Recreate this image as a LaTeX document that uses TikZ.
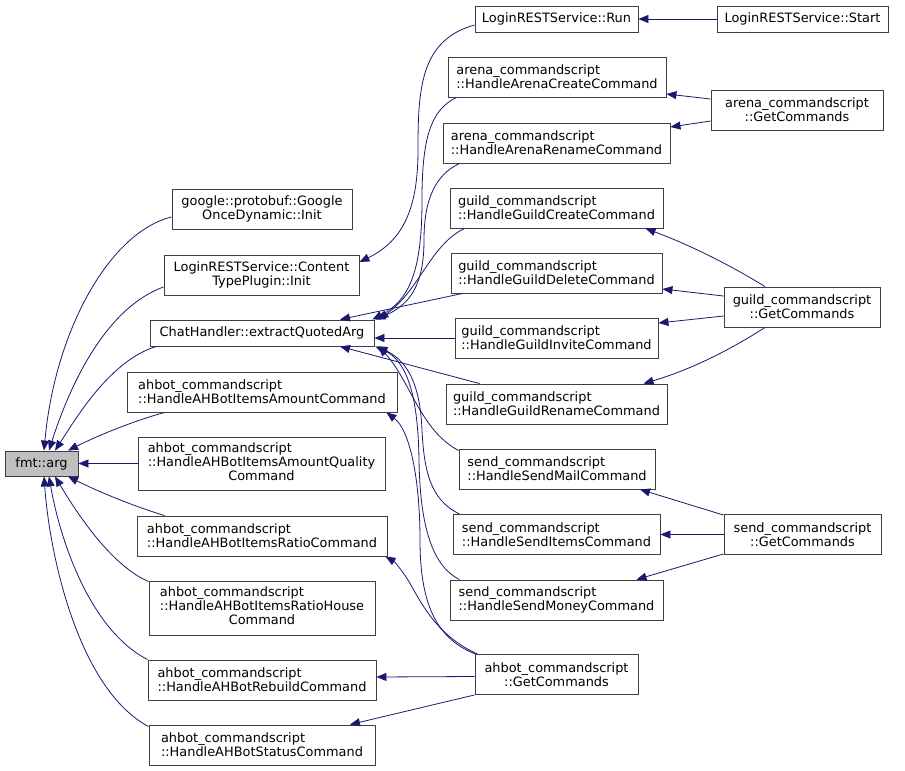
\documentclass[tikz,border=0pt]{standalone}
\usepackage{fontspec}
\setmainfont{DejaVu Sans}
\usetikzlibrary{arrows.meta,calc}
\definecolor{edgec}{HTML}{191970}
\definecolor{boxline}{HTML}{404040}
\definecolor{fmtfill}{HTML}{BFBFBF}
\begin{document}
\begin{tikzpicture}[x=1pt,y=-1pt,
  box/.style={draw=boxline, fill=white, inner sep=0pt, line width=0.9pt,
    font=\fontsize{12.9}{14}\selectfont},
  e/.style={draw=edgec, line width=0.8pt, -{Triangle[length=10pt,width=8pt]}}]
\useasboundingbox[fill=white] (0,0) rectangle (905,771);
% left column
\node[box, fill=fmtfill, minimum width=73pt, minimum height=25pt] (fmt) at (41.5,463.5) {fmt::arg};
\node[box, align=center, minimum width=180pt, minimum height=40pt] (google) at (262,209) {google::protobuf::Google\\OnceDynamic::Init};
\node[box, align=center, minimum width=195pt, minimum height=40pt] (content) at (261.5,275) {LoginRESTService::Content\\TypePlugin::Init};
\node[box, minimum width=224pt, minimum height=26pt] (extract) at (262,333) {ChatHandler::extractQuotedArg};
\node[box, align=left, minimum width=270pt, minimum height=40pt] (amount) at (262,392) {ahbot\_commandscript\\::HandleAHBotItemsAmountCommand};
\node[box, minimum width=247pt, minimum height=53pt] (quality) at (261.5,463.5) {\begin{tabular}{@{}l@{}}ahbot\_commandscript\\::HandleAHBotItemsAmountQuality\\\multicolumn{1}{@{}c@{}}{Command}\end{tabular}};
\node[box, align=left, minimum width=250pt, minimum height=40pt] (ratio) at (262,536) {ahbot\_commandscript\\::HandleAHBotItemsRatioCommand};
\node[box, minimum width=226pt, minimum height=54pt] (house) at (262,608) {\begin{tabular}{@{}l@{}}ahbot\_commandscript\\::HandleAHBotItemsRatioHouse\\\multicolumn{1}{@{}c@{}}{Command}\end{tabular}};
\node[box, align=left, minimum width=228pt, minimum height=40pt] (rebuild) at (262,680) {ahbot\_commandscript\\::HandleAHBotRebuildCommand};
\node[box, align=left, minimum width=226pt, minimum height=40pt] (status) at (262,745) {ahbot\_commandscript\\::HandleAHBotStatusCommand};
% middle column
\node[box, minimum width=163pt, minimum height=26pt] (run) at (556.5,19) {LoginRESTService::Run};
\node[box, align=left, minimum width=218pt, minimum height=40pt] (arenacreate) at (557,77) {arena\_commandscript\\::HandleArenaCreateCommand};
\node[box, align=left, minimum width=227pt, minimum height=40pt] (arenarename) at (556.5,143) {arena\_commandscript\\::HandleArenaRenameCommand};
\node[box, align=left, minimum width=213pt, minimum height=40pt] (guildcreate) at (556.5,208) {guild\_commandscript\\::HandleGuildCreateCommand};
\node[box, align=left, minimum width=211pt, minimum height=40pt] (guilddelete) at (556.5,273) {guild\_commandscript\\::HandleGuildDeleteCommand};
\node[box, align=left, minimum width=203pt, minimum height=40pt] (guildinvite) at (556.5,338) {guild\_commandscript\\::HandleGuildInviteCommand};
\node[box, align=left, minimum width=221pt, minimum height=40pt] (guildrename) at (556.5,404) {guild\_commandscript\\::HandleGuildRenameCommand};
\node[box, align=left, minimum width=196pt, minimum height=40pt] (sendmail) at (557,469) {send\_commandscript\\::HandleSendMailCommand};
\node[box, align=left, minimum width=207pt, minimum height=40pt] (senditems) at (556.5,534.5) {send\_commandscript\\::HandleSendItemsCommand};
\node[box, align=left, minimum width=213pt, minimum height=40pt] (sendmoney) at (556.5,600) {send\_commandscript\\::HandleSendMoneyCommand};
\node[box, align=center, minimum width=163pt, minimum height=40pt] (ahbotget) at (556.5,674.5) {ahbot\_commandscript\\::GetCommands};
% right column
\node[box, minimum width=171pt, minimum height=26pt] (start) at (802.5,19) {LoginRESTService::Start};
\node[box, align=center, minimum width=172pt, minimum height=40pt] (arenaget) at (797,110) {arena\_commandscript\\::GetCommands};
\node[box, align=center, minimum width=156pt, minimum height=40pt] (guildget) at (802,307) {guild\_commandscript\\::GetCommands};
\node[box, align=center, minimum width=157pt, minimum height=40pt] (sendget) at (802.5,534.5) {send\_commandscript\\::GetCommands};
% edges into fmt::arg
\draw[e] ([yshift=-8pt]google.west) .. controls (110,232) and (55,330) .. ([xshift=2.5pt]fmt.north);
\draw[e] ([yshift=-12pt]content.west) .. controls (100,310) and (65,400) .. ([xshift=7.5pt]fmt.north);
\draw[e] ([xshift=7pt]extract.south west) .. controls (110,360) and (75,420) .. ([xshift=13.5pt]fmt.north);
\draw[e] ([xshift=38pt]amount.south west) .. controls (130,422) and (95,437) .. ([xshift=26.5pt]fmt.north);
\draw[e] (quality.west) -- (fmt.east);
\draw[e] ([xshift=28pt]ratio.north west) .. controls (130,505) and (95,490) .. ([xshift=26.5pt]fmt.south);
\draw[e] ([yshift=-1pt]house.north west) .. controls (110,565) and (75,510) .. ([xshift=13.5pt]fmt.south);
\draw[e] (rebuild.north west) .. controls (90,630) and (60,540) .. ([xshift=7.5pt]fmt.south);
\draw[e] ([yshift=-2pt]status.north west) .. controls (80,690) and (50,560) .. ([xshift=2.5pt]fmt.south);
% tangle
\draw[e] ([yshift=-6pt]run.west) .. controls (420,40) and (418,90) .. (418,150) .. controls (418,205) and (405,240) .. ([yshift=13pt]content.east);
\draw[e] ([xshift=9pt]arenacreate.south west) .. controls (430,110) and (422,140) .. (422,200) .. controls (422,270) and (410,300) .. ([xshift=-2pt]extract.north east);
\draw[e] ([xshift=17pt]arenarename.south west) .. controls (435,175) and (424,200) .. (424,240) .. controls (424,285) and (410,305) .. ([xshift=1pt]extract.north east);
\draw[e] ([xshift=15pt]guildcreate.south west) .. controls (430,245) and (420,290) .. ([xshift=4pt]extract.north east);
\draw[e] ([xshift=12pt]guilddelete.south west) -- ([xshift=78pt]extract.north);
\draw[e] (guildinvite.west) -- (guildinvite.west -| extract.east);
\draw[e] ([xshift=34pt]guildrename.north west) -- ([xshift=78pt]extract.south);
\draw[e] ([yshift=-2pt]sendmail.north west) .. controls (420,430) and (410,380) .. ([xshift=4pt]extract.south east);
\draw[e] ([xshift=7pt]senditems.north west) .. controls (430,500) and (424,470) .. (422,430) .. controls (420,380) and (405,360) .. ([xshift=3pt]extract.south east);
\draw[e] ([xshift=10pt]sendmoney.north west) .. controls (430,565) and (420,520) .. (419,460) .. controls (418,390) and (405,360) .. ([xshift=1pt]extract.south east);
\draw[e] ([xshift=1pt]ahbotget.north west) .. controls (440,640) and (420,610) .. (420,540) .. controls (420,480) and (410,430) .. ([xshift=-11pt]amount.south east);
\draw[e] ([xshift=3pt]ahbotget.north west) .. controls (435,635) and (420,600) .. (408,580) .. controls (400,568) and (395,562) .. ([xshift=-2pt]ratio.south east);
\draw[e] ([yshift=-2pt]ahbotget.west) -- ([yshift=3pt]rebuild.east);
\draw[e] (ahbotget.south west) -- ([xshift=88pt]status.north);
% right edges
\draw[e] (start.west) -- (run.east);
\draw[e] ([yshift=11pt]arenaget.west) -- ([yshift=-17pt]arenacreate.east);
\draw[e] ([yshift=-11pt]arenaget.west) -- ([yshift=16pt]arenarename.east);
\draw[e] ([xshift=-37pt]guildget.north) .. controls (730,265) and (690,245) .. ([xshift=89pt]guildcreate.south);
\draw[e] ([yshift=11pt]guildget.west) -- ([yshift=-16pt]guilddelete.east);
\draw[e] ([yshift=-9pt]guildget.west) -- ([yshift=15pt]guildinvite.east);
\draw[e] ([xshift=-37pt]guildget.south) .. controls (730,350) and (690,370) .. ([xshift=87pt]guildrename.north);
\draw[e] ([yshift=-1pt]sendget.north west) -- ([xshift=83pt]sendmail.south);
\draw[e] (sendget.west) -- (senditems.east);
\draw[e] ([yshift=1pt]sendget.south west) -- ([xshift=80pt]sendmoney.north);
\end{tikzpicture}
\end{document}
